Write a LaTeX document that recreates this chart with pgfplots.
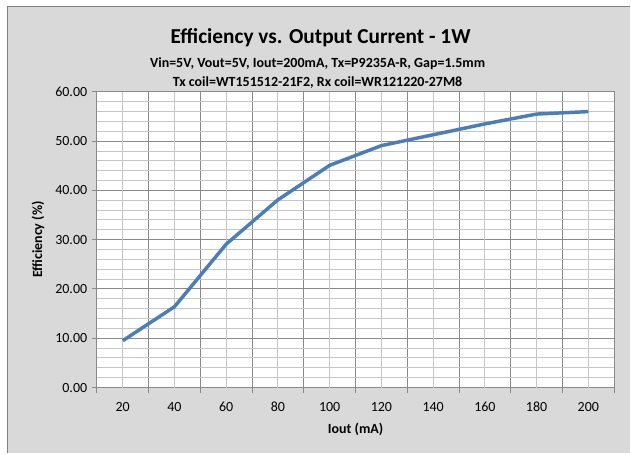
\documentclass[border=0pt]{standalone}
\usepackage{pgfplots}
\pgfplotsset{compat=1.18}
\usepackage{fontspec}
\setmainfont{Carlito}

\definecolor{chartbg}{HTML}{D9D9D9}
\definecolor{framegray}{HTML}{808080}
\definecolor{majorgray}{HTML}{8A8A8A}
\definecolor{minorgray}{HTML}{C6C6C6}
\definecolor{lineblue}{HTML}{4A7EBB}

\begin{document}
\begin{tikzpicture}
% chart area, in pixels of the reference
\begin{scope}[x=0.75pt,y=-0.75pt]
\fill[white] (0,0) rectangle (631,454);
\fill[chartbg] (7,6) rectangle (631,454);
\draw[framegray, line width=1.2pt] (7.5,454) -- (7.5,6.5) -- (631,6.5);
\node[font=\fontsize{16}{19}\selectfont\bfseries, anchor=base, inner sep=0pt] at (321,44)
  {Efficiency vs. Output Current - 1W};
\node[font=\fontsize{10.5}{12}\selectfont\bfseries, anchor=base, inner sep=0pt] at (318,68)
  {Vin=5V, Vout=5V, Iout=200mA, Tx=P9235A-R, Gap=1.5mm};
\node[font=\fontsize{10.5}{12}\selectfont\bfseries, anchor=base, inner sep=0pt] at (318,86.5)
  {Tx coil=WT151512-21F2, Rx coil=WR121220-27M8};
\end{scope}

\begin{axis}[
    at={(72.75pt,-291pt)}, anchor=south west,
    scale only axis, width=388.5pt, height=222pt,
    axis background/.style={fill=white},
    xmin=10, xmax=210, ymin=0, ymax=60,
    xtick={10,30,...,210}, xticklabels={},
    extra x ticks={20,40,...,200},
    extra x tick labels={20,40,60,80,100,120,140,160,180,200},
    extra x tick style={major tick length=0pt, grid=major,
        major grid style={minorgray, line width=0.75pt},
        xticklabel style={yshift=-7.5pt}},
    ytick={0,10,...,60}, minor y tick num=4,
    xmajorgrids, ymajorgrids, yminorgrids,
    major grid style={majorgray, line width=0.75pt},
    minor grid style={minorgray, line width=0.75pt},
    minor tick length=0pt, major tick length=3.75pt,
    tick align=outside, xtick pos=bottom, ytick pos=left,
    tick style={majorgray, line width=0.75pt},
    axis line style={majorgray, line width=0.75pt},
    tick label style={font=\fontsize{10.5}{12}\selectfont},
    yticklabel style={/pgf/number format/.cd, fixed, fixed zerofill, precision=2},
    /pgf/number format/assume math mode=true,
    xlabel={Iout (mA)}, ylabel={Efficiency (\%)},
    label style={font=\fontsize{10.5}{12}\selectfont\bfseries},
    xlabel style={at={(axis description cs:0.5,-0.1419)}, anchor=center},
    ylabel style={at={(axis description cs:-0.1139,0.5)}, anchor=center},
]
\addplot[lineblue, line width=2.6pt, line join=round, no marks]
    coordinates {(20,9.5) (40,16.4) (60,29.1) (80,38.1) (100,45.1)
        (120,49.1) (140,51.3) (160,53.5) (180,55.5) (200,56.0)};
\end{axis}
\end{tikzpicture}
\end{document}
